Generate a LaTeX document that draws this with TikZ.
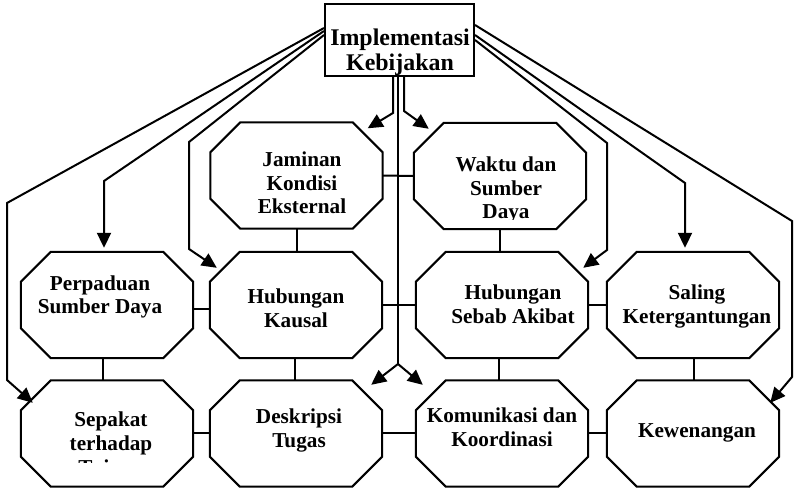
\documentclass[tikz,border=0pt]{standalone}
\usepackage{fontspec}
\setmainfont{Liberation Serif}
\usetikzlibrary{arrows.meta,calc}

\tikzset{
  ln/.style={line width=2bp},
  arr/.style={ln, -{Triangle[length=15bp,width=14bp]}},
  octnode/.style={rectangle, draw=none, minimum width=172bp, minimum height=106bp, inner sep=0pt},
  topbox/.style={rectangle, draw, ln, minimum width=149bp, minimum height=72bp, inner sep=0pt},
  lbl/.style={font=\bfseries\fontsize{21.3}{24}\selectfont, align=center, inner sep=0pt, anchor=base},
  toplbl/.style={font=\bfseries\fontsize{24}{26}\selectfont, align=center, inner sep=0pt, anchor=base},
}

% octagonal box: name, centre x, centre y
\newcommand\octbox[3]{%
  \node[octnode] (#1) at (#2,#3) {};
  \draw[ln] ($(#1.north west)+(30,0)$) -- ($(#1.north east)+(-30,0)$)
    -- ($(#1.north east)+(0,30)$) -- ($(#1.south east)+(0,-30)$)
    -- ($(#1.south east)+(-30,0)$) -- ($(#1.south west)+(30,0)$)
    -- ($(#1.south west)+(0,-30)$) -- ($(#1.north west)+(0,30)$) -- cycle;}

\begin{document}
\begin{tikzpicture}[x=1bp,y=-1bp]
\useasboundingbox (0,0) rectangle (799,491);

% top box (labels are placed by the baseline of their last line)
\node[topbox] (impl) at (399.5,40) {};
\node[toplbl] (impl-t) at (400,71) {Implementasi\\Kebijakan};

% octagons
\octbox{jam}{296.5}{175.5}
\octbox{wak}{500}{176}
\octbox{perp}{107}{305}
\octbox{kaus}{296}{305}
\octbox{sebab}{502}{305}
\octbox{sal}{693}{305}
\octbox{sep}{107}{433.5}
\octbox{desk}{296}{433.5}
\octbox{kom}{502}{433.5}
\octbox{kew}{693}{433.5}

% labels
\node[lbl] (jam-t) at (302,214) {Jaminan\\Kondisi\\Eksternal};
\begin{scope}
  \clip (410,130) rectangle (590,219.5);
  \node[lbl] (wak-t) at (506,219) {Waktu dan\\Sumber\\Daya};
\end{scope}
\node[lbl] (perp-t) at (100,314) {Perpaduan\\Sumber Daya};
\node[lbl] (kaus-t) at (296,327) {Hubungan\\Kausal};
\node[lbl] (sebab-t) at (513,323) {Hubungan\\Sebab Akibat};
\node[lbl] (sal-t) at (697,323) {Saling\\Ketergantungan};
\begin{scope}
  \clip (30,390) rectangle (190,462);
  \node[lbl] (sep-t) at (111,474) {Sepakat\\terhadap\\Tujuan};
\end{scope}
\node[lbl] (desk-t) at (299,447) {Deskripsi\\Tugas};
\node[lbl] (kom-t) at (502,446) {Komunikasi dan\\Koordinasi};
\node[lbl] (kew-t) at (697,437) {Kewenangan};

% plain links between neighbouring boxes
\draw[ln] (jam.east) -- (wak.west);
\draw[ln] (jam.south) -- (jam.south |- kaus.north);
\draw[ln] (wak.south) -- (wak.south |- sebab.north);
\draw[ln] ($(perp.east)+(0,4)$) -- ($(kaus.west)+(0,4)$);
\draw[ln] (kaus.east) -- (sebab.west);
\draw[ln] (sebab.east) -- (sal.west);
\draw[ln] ($(perp.south)+(-4,0)$) -- ($(sep.north)+(-4,0)$);
\draw[ln] ($(kaus.south)+(-1,0)$) -- ($(desk.north)+(-1,0)$);
\draw[ln] ($(sebab.south)+(-3,0)$) -- ($(kom.north)+(-3,0)$);
\draw[ln] ($(sal.south)+(1,0)$) -- ($(kew.north)+(1,0)$);
\draw[ln] ($(sep.east)+(0,-1)$) -- ($(desk.west)+(0,-1)$);
\draw[ln] ($(desk.east)+(0,-1)$) -- ($(kom.west)+(0,-1)$);
\draw[ln] ($(kom.east)+(0,-1)$) -- ($(kew.west)+(0,-1)$);

% arrows fanning out to the left
\draw[arr] ($(impl.west)+(0,-12)$) -- (7,203) -- (7,380) -- ($(sep.north west)+(12,22.5)$);
\draw[arr] ($(impl.west)+(0,-9)$) -- (104,181) -- ($(perp.north)+(-3,-4)$);
\draw[arr] ($(impl.west)+(0,-5)$) -- (189,142) -- (189,249) -- ($(kaus.north west)+(7,16)$);

% arrows fanning out to the right
\draw[arr] ($(impl.east)+(0,-15)$) -- (792,221) -- (792,377) -- ($(kew.north east)+(-9,22.5)$);
\draw[arr] ($(impl.east)+(0,-5)$) -- (685,183) -- ($(sal.north)+(-8,-4)$);
\draw[arr] ($(impl.east)+(0,0)$) -- (607,143) -- (607,250) -- ($(sebab.north east)+(-5,16)$);

% arrows straight down from the top box
\draw[arr] ($(impl.south)+(-6.5,0)$) -- ++(0,36) -- ($(jam.north east)+(-15,6)$);
\draw[arr] ($(impl.south)+(4.5,0)$) -- ++(0,34) -- ($(wak.north west)+(15,6)$);
\coordinate (split) at ($(impl.south)+(-1.5,287)$);
\draw[ln] ($(impl.south)+(-1.5,0)$) -- (split);
\draw[arr] (split) -- ($(desk.north east)+(-11,4.5)$);
\draw[arr] (split) -- ($(kom.north west)+(7,4.5)$);
\end{tikzpicture}
\end{document}
